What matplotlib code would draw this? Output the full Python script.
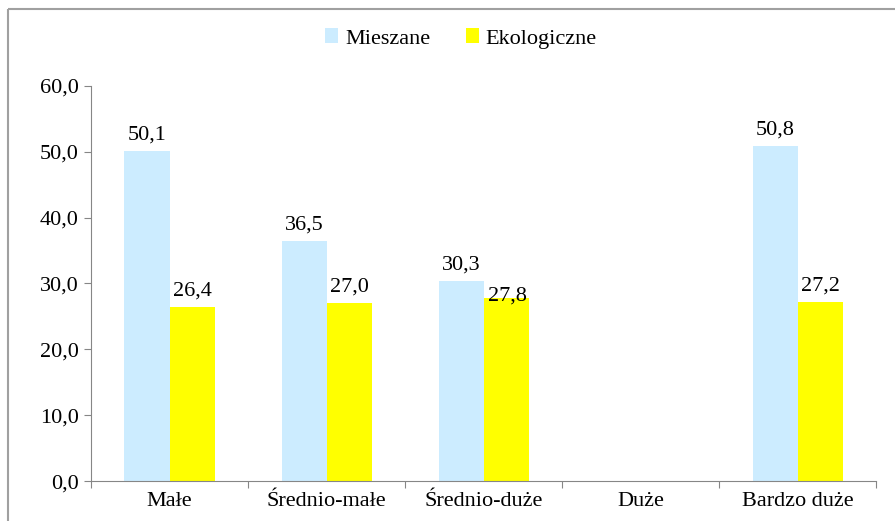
import numpy as np
from matplotlib import pyplot as plt
from matplotlib.lines import Line2D

categories = ['Małe', 'Średnio-małe', 'Średnio-duże', 'Duże', 'Bardzo duże']
mieszane = [50.1, 36.5, 30.3, np.nan, 50.8]
ekologiczne = [26.4, 27.0, 27.8, np.nan, 27.2]
yticks = [0, 10, 20, 30, 40, 50, 60]


def fmt(v):
    return ('%.1f' % v).replace('.', ',')


def main():
    plt.rcParams['font.family'] = ['Liberation Serif', 'DejaVu Serif']
    # lekko powyżej 8.95 x 5.21, żeby obrazek miał pełne 895x521 px
    fig = plt.figure(figsize=(8.952, 5.212), dpi=100)
    ax = fig.add_axes([0.1017, 0.0768, 0.8771, 0.7582])

    # ramka wokół wykresu - widać tylko górną i lewą krawędź
    bx, by = 7.5 / 895, 1 - 9.5 / 521
    fig.add_artist(Line2D([bx, bx], [0.0, by], transform=fig.transFigure,
                          color='#A0A0A0', linewidth=1.5, solid_capstyle='butt'))
    fig.add_artist(Line2D([bx, 1.0], [by, by], transform=fig.transFigure,
                          color='#A0A0A0', linewidth=1.5, solid_capstyle='butt'))

    x = np.arange(len(categories))
    w = 0.287
    b1 = ax.bar(x - w / 2, mieszane, width=w, color='#CCECFF', label='Mieszane')
    b2 = ax.bar(x + w / 2, ekologiczne, width=w, color='#FFFF00', label='Ekologiczne')

    for xs, vals in ((x - w / 2, mieszane), (x + w / 2, ekologiczne)):
        for i, (xi, v) in enumerate(zip(xs, vals)):
            if np.isnan(v):
                continue
            if vals is ekologiczne and i == 2:
                # w oryginale ta etykieta nachodzi na słupek
                ax.text(xi + 0.01, v + 0.3, fmt(v), ha='center', va='center', fontsize=16)
            else:
                ax.text(xi, v + 1.0, fmt(v), ha='center', va='bottom', fontsize=16)

    ax.set_xlim(-0.5, len(categories) - 0.5)
    ax.set_ylim(0, 60)
    ax.set_yticks(yticks)
    ax.set_yticklabels([fmt(t) for t in yticks], fontsize=16)
    ax.set_xticks(np.arange(-0.5, len(categories), 1))
    ax.set_xticklabels([])
    ax.set_xticks(x, minor=True)
    ax.set_xticklabels(categories, minor=True, fontsize=16)
    ax.tick_params(axis='x', which='minor', length=0, pad=8)
    ax.tick_params(axis='x', which='major', length=5, color='#868686')
    ax.tick_params(axis='y', length=5, color='#868686', pad=4)

    for s in ('top', 'right'):
        ax.spines[s].set_visible(False)
    for s in ('left', 'bottom'):
        ax.spines[s].set_color('#868686')

    fig.legend(handles=[b1, b2], loc='center', bbox_to_anchor=(0.515, 0.926),
               ncol=2, frameon=False, fontsize=16, handlelength=0.6,
               handleheight=0.6, handletextpad=0.3, columnspacing=1.6)

    fig.savefig('out.png', dpi=100)


if __name__ == '__main__':
    main()
